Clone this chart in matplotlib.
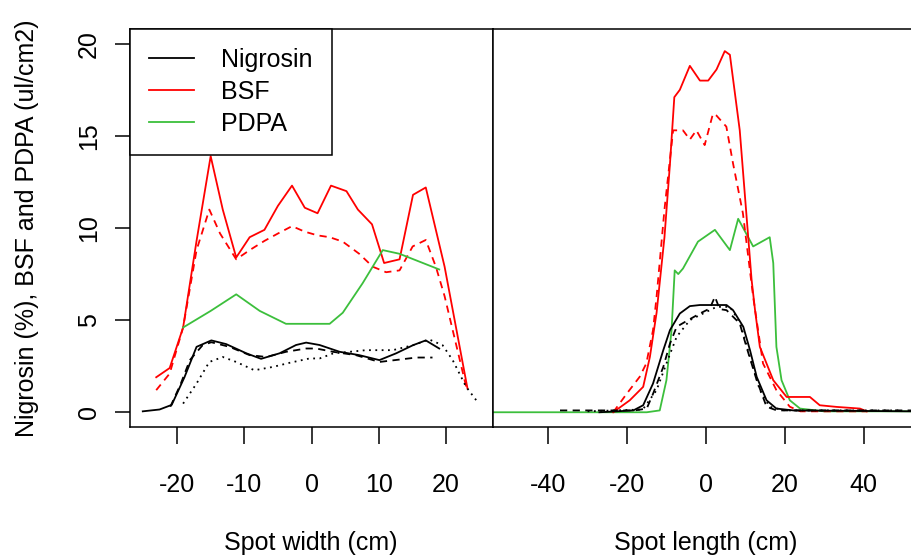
import matplotlib.pyplot as plt

plt.rcParams['font.family'] = ['Liberation Sans', 'DejaVu Sans']
plt.rcParams['font.size'] = 18
plt.rcParams['axes.unicode_minus'] = False

RED = '#ff0000'
GREEN = '#3cbf3c'
DASHED = (0, (4, 3))
DOTTED = (0, (1, 2.5))

# --- Spot width (left panel) ---
w_bsf_x = [-23.1, -21.1, -19.1, -17.1, -15.0, -13.2, -11.2, -9.2, -7.0, -5.0, -2.9, -1.0,
           0.9, 2.9, 5.2, 6.9, 9.0, 10.8, 13.1, 15.1, 17.0, 19.8, 23.2]
w_bsf_y = [1.9, 2.4, 4.6, 9.3, 13.9, 11.0, 8.4, 9.5, 9.9, 11.2, 12.3, 11.1,
           10.8, 12.3, 12.0, 11.0, 10.2, 8.1, 8.3, 11.8, 12.2, 7.9, 1.3]

w_bsf2_x = [-23.1, -21.1, -19.1, -17.1, -15.2, -13.6, -11.2, -9.2, -7.0, -5.0, -2.9, -1.0,
            0.9, 2.7, 4.65, 7.1, 9.1, 11.1, 13.1, 15.05, 17.0, 18.5, 19.8, 23.0]
w_bsf2_y = [1.2, 2.1, 4.6, 8.8, 11.0, 9.7, 8.3, 8.8, 9.3, 9.7, 10.1, 9.8,
            9.6, 9.5, 9.26, 8.6, 7.9, 7.6, 7.7, 9.0, 9.35, 7.9, 6.3, 1.4]

w_pdpa_x = [-19.1, -15.0, -11.2, -7.7, -3.8, 2.7, 4.65, 7.6, 10.6, 13.1, 19.0]
w_pdpa_y = [4.6, 5.5, 6.4, 5.5, 4.8, 4.8, 5.4, 7.0, 8.8, 8.6, 7.75]

w_nig1_x = [-25.1, -22.6, -20.8, -18.9, -17.1, -14.9, -12.7, -9.7, -7.5, -4.75, -2.3, -0.8,
            1.2, 4.2, 7.1, 10.1, 12.6, 15.1, 17.0, 19.0]
w_nig1_y = [0.05, 0.15, 0.4, 1.9, 3.55, 3.9, 3.7, 3.2, 2.9, 3.2, 3.65, 3.78,
            3.65, 3.28, 3.1, 2.83, 3.2, 3.64, 3.9, 3.46]

w_nig2_x = [-21.0, -19.5, -18.1, -16.2, -14.9, -12.2, -9.2, -6.7, -3.8, -0.8, 0.7, 3.2,
            6.6, 10.1, 13.1, 15.6, 18.0]
w_nig2_y = [0.3, 1.5, 2.83, 3.64, 3.8, 3.55, 3.1, 3.0, 3.28, 3.46, 3.46, 3.28,
            3.1, 2.73, 2.86, 2.97, 2.97]

w_nig3_x = [-19.1, -17.1, -15.2, -13.2, -11.2, -8.5, -5.75, -3.3, -0.3, 1.2, 3.2, 8.1,
            12.1, 15.1, 17.5, 19.5, 21.0, 23.0, 24.7]
w_nig3_y = [0.47, 1.56, 2.73, 3.0, 2.73, 2.28, 2.46, 2.68, 2.92, 2.92, 3.19, 3.37,
            3.37, 3.64, 3.95, 3.64, 2.83, 1.38, 0.56]

# --- Spot length (right panel) ---
l_bsf_x = [-23.5, -19.3, -15.9, -14.2, -12.5, -10.5, -9.1, -8.0, -6.6, -4.06, -1.5, 0.6,
           2.7, 4.8, 6.1, 8.6, 11.6, 12.5, 13.7, 17.1, 20.5, 21.3, 26.4, 28.9, 33.2, 39.1, 40.8]
l_bsf_y = [0.0, 0.65, 1.38, 3.0, 5.4, 9.5, 13.5, 17.1, 17.5, 18.8, 18.0, 18.0,
           18.6, 19.6, 19.4, 15.3, 7.2, 5.5, 3.55, 1.74, 0.83, 0.83, 0.83, 0.38, 0.29, 0.2, 0.05]

l_bsf2_x = [-23.5, -20.1, -16.8, -15.1, -13.4, -12.5, -10.5, -8.3, -5.8, -4.06, -2.4, -0.3,
            1.8, 2.7, 5.2, 6.9, 9.4, 12.0, 14.5, 17.9, 21.3, 24.0, 41.0]
l_bsf2_y = [0.0, 1.0, 1.92, 2.65, 4.46, 6.27, 11.0, 15.3, 15.3, 14.8, 15.3, 14.5,
            16.2, 16.1, 15.5, 13.5, 10.8, 6.27, 2.65, 1.2, 0.3, 0.05, 0.05]

l_pdpa_x = [-54.0, -15.0, -11.7, -10.0, -8.7, -7.9, -7.0, -5.8, -2.0, 2.3, 6.1, 8.2,
            12.0, 16.2, 17.1, 17.9, 19.2, 21.3, 23.9, 30.0, 52.3]
l_pdpa_y = [0.0, 0.0, 0.1, 1.74, 4.46, 7.7, 7.5, 7.8, 9.26, 9.9, 8.8, 10.5,
            9.0, 9.5, 8.1, 3.55, 1.74, 0.65, 0.2, 0.05, 0.05]

l_nig1_x = [-27.0, -18.4, -15.9, -13.4, -10.8, -9.1, -6.6, -4.06, -1.5, 1.85, 5.25, 6.9,
            9.5, 11.2, 12.9, 15.4, 17.9, 22.2, 52.3]
l_nig1_y = [0.0, 0.1, 0.38, 1.56, 3.37, 4.46, 5.36, 5.76, 5.82, 5.82, 5.82, 5.54,
            4.64, 3.37, 1.92, 0.65, 0.2, 0.1, 0.05]

l_nig2_x = [-37.0, -18.0, -15.0, -13.4, -10.8, -9.1, -7.4, -4.5, -1.5, 1.0, 2.3, 3.5,
            5.25, 8.6, 10.3, 12.9, 15.4, 18.0, 52.3]
l_nig2_y = [0.1, 0.1, 0.2, 1.0, 2.46, 3.73, 4.64, 5.0, 5.36, 5.63, 6.27, 5.6,
            5.54, 4.82, 3.55, 1.74, 0.3, 0.1, 0.1]

l_nig3_x = [-30.0, -16.0, -12.5, -10.0, -7.4, -4.06, -0.7, 2.7, 6.1, 8.6, 11.2, 13.7,
            16.2, 20.0, 50.0]
l_nig3_y = [0.05, 0.15, 1.2, 2.65, 4.1, 5.0, 5.36, 5.72, 5.72, 4.9, 3.0, 1.2,
            0.3, 0.1, 0.1]

fig = plt.figure(figsize=(9.12, 5.57), dpi=100)
ax1 = fig.add_axes([130 / 912, 1 - 427 / 557, 363 / 912, 398 / 557])
ax2 = fig.add_axes([493 / 912, 1 - 427 / 557, 419 / 912, 398 / 557])

lw = 1.3
ax1.plot(w_bsf_x, w_bsf_y, color=RED, lw=lw)
ax1.plot(w_bsf2_x, w_bsf2_y, color=RED, lw=lw, ls=DASHED)
ax1.plot(w_pdpa_x, w_pdpa_y, color=GREEN, lw=lw)
ax1.plot(w_nig1_x, w_nig1_y, color='black', lw=lw)
ax1.plot(w_nig2_x, w_nig2_y, color='black', lw=lw, ls=DASHED)
ax1.plot(w_nig3_x, w_nig3_y, color='black', lw=lw, ls=DOTTED)

ax2.plot(l_pdpa_x, l_pdpa_y, color=GREEN, lw=lw)
ax2.plot(l_bsf_x, l_bsf_y, color=RED, lw=lw)
ax2.plot(l_bsf2_x, l_bsf2_y, color=RED, lw=lw, ls=DASHED)
ax2.plot(l_nig1_x, l_nig1_y, color='black', lw=lw)
ax2.plot(l_nig2_x, l_nig2_y, color='black', lw=lw, ls=DASHED)
ax2.plot(l_nig3_x, l_nig3_y, color='black', lw=lw, ls=DOTTED)

for ax in (ax1, ax2):
    ax.set_ylim(-0.8, 20.8)
    for s in ax.spines.values():
        s.set_linewidth(1.1)
    ax.tick_params(axis='x', length=12, width=1.1, pad=21)

ax1.set_xlim(-27, 27)
ax1.set_xticks([-20, -10, 0, 10, 20])
ax1.set_yticks([0, 5, 10, 15, 20])
ax1.tick_params(axis='y', length=11, width=1.1, pad=10)
for t in ax1.get_yticklabels():
    t.set_rotation(90)
    t.set_va('center')

ax2.set_xlim(-54, 52.3)
ax2.set_xticks([-40, -20, 0, 20, 40])
ax2.set_yticks([])
ax2.spines['right'].set_visible(False)

ax1.set_xlabel('Spot width (cm)')
ax1.xaxis.set_label_coords(0.499, -0.262)
ax2.set_xlabel('Spot length (cm)')
ax2.xaxis.set_label_coords(0.508, -0.262)
ax1.set_ylabel('Nigrosin (%), BSF and PDPA (ul/cm2)')
ax1.yaxis.set_label_coords(-0.25, 0.5)

handles = [plt.Line2D([], [], color='black', lw=lw),
           plt.Line2D([], [], color=RED, lw=lw),
           plt.Line2D([], [], color=GREEN, lw=lw)]
leg = ax1.legend(handles, ['Nigrosin', 'BSF', 'PDPA'], loc='upper left',
                 bbox_to_anchor=(0, 1), borderaxespad=0, fancybox=False,
                 framealpha=1, edgecolor='black', handlelength=1.8,
                 handletextpad=1.1, borderpad=0.75, labelspacing=0.32)
leg.get_frame().set_linewidth(1.1)

fig.savefig('out.png', dpi=100)
